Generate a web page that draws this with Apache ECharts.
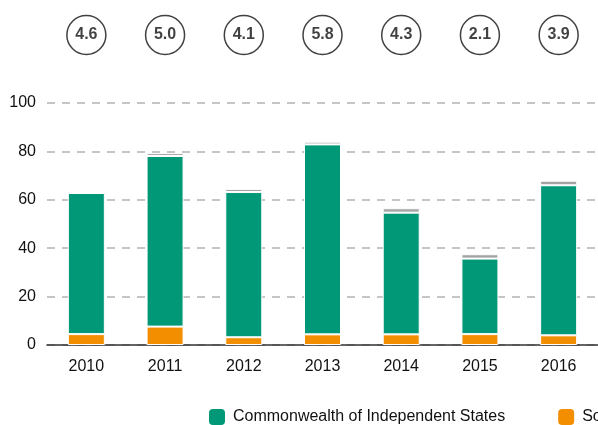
<!DOCTYPE html>
<html>
<head>
<meta charset="utf-8">
<script src="https://cdn.jsdelivr.net/npm/echarts@6/dist/echarts.min.js"></script>
<style>
  html, body { margin: 0; padding: 0; background: #fff; }
  #main { width: 598px; height: 425px; }
</style>
</head>
<body>
<div id="main"></div>
<script>
// FDI inflows, transition economies (billions of dollars)
const years = ["2010", "2011", "2012", "2013", "2014", "2015", "2016"];
const cis = [58.3, 70.5, 60.0, 78.5, 50.3, 31.2, 62.0];
const seEurope = [4.5, 7.6, 3.2, 4.4, 4.4, 4.5, 4.0];
const georgia = [0.6, 1.2, 1.3, 1.1, 1.8, 1.8, 1.9];
// share in world total (%)
const shares = ["4.6", "5.0", "4.1", "5.8", "4.3", "2.1", "3.9"];
const yTicks = [0, 20, 40, 60, 80, 100];

const font = "'Liberation Sans', Arial, sans-serif";

const chart = echarts.init(document.getElementById("main"));

const options = {
  animation: false,
  textStyle: { fontFamily: font },
  grid: [
    { left: 47, width: 553, top: 103, height: 242 },
    { left: 47, width: 553, top: 15, height: 40 },
  ],
  legend: {
    left: 204,
    top: 404,
    width: 1200,
    itemWidth: 16,
    itemHeight: 16,
    itemGap: 53,
    icon: "roundRect",
    itemStyle: { borderWidth: 0 },
    textStyle: {
      fontSize: 16,
      color: "#111",
      fontFamily: font,
      padding: [0, 0, 0, 3],
    },
    data: ["Commonwealth of Independent States", "South-East Europe", "Georgia"],
  },
  xAxis: [
    {
      type: "category",
      gridIndex: 0,
      data: years,
      axisTick: { show: false },
      axisLine: { lineStyle: { color: "#333", width: 1.5 } },
      axisLabel: { fontSize: 16, color: "#111", margin: 14, fontFamily: font },
    },
    {
      type: "category",
      gridIndex: 1,
      data: years,
      show: false,
    },
  ],
  yAxis: [
    {
      type: "value",
      gridIndex: 0,
      min: yTicks[0],
      max: yTicks[yTicks.length - 1],
      interval: 20,
      axisLine: { show: false },
      axisTick: { show: false },
      axisLabel: {
        fontSize: 16,
        color: "#111",
        margin: 11,
        fontFamily: font,
        padding: [0, 0, 4, 0],
      },
      splitLine: {
        lineStyle: { color: "#b3b3b3", type: [8, 7], width: 1.5 },
      },
    },
    { type: "value", gridIndex: 1, min: 0, max: 2, show: false },
  ],
  series: [
    {
      name: "South-East Europe",
      type: "bar",
      stack: "fdi",
      barWidth: 37,
      itemStyle: { color: "#f28e00", borderColor: "#fff", borderWidth: 1 },
      data: seEurope,
    },
    {
      name: "Commonwealth of Independent States",
      type: "bar",
      stack: "fdi",
      barWidth: 37,
      itemStyle: { color: "#009877", borderColor: "#fff", borderWidth: 1 },
      data: cis,
    },
    {
      name: "Georgia",
      type: "bar",
      stack: "fdi",
      barWidth: 37,
      itemStyle: { color: "#a3a3a3", borderColor: "#fff", borderWidth: 1 },
      data: georgia,
    },
    {
      name: "share",
      type: "scatter",
      xAxisIndex: 1,
      yAxisIndex: 1,
      symbol: "circle",
      symbolSize: 39,
      itemStyle: { color: "#fff", borderColor: "#111", borderWidth: 1.5 },
      label: {
        show: true,
        position: "inside",
        formatter: (p) => p.value[2],
        fontSize: 16,
        fontWeight: "bold",
        color: "#111",
        textBorderWidth: 0,
        fontFamily: font,
      },
      data: years.map((y, i) => [y, 1, shares[i]]),
    },
  ],
};

chart.setOption(options);
</script>
</body>
</html>
